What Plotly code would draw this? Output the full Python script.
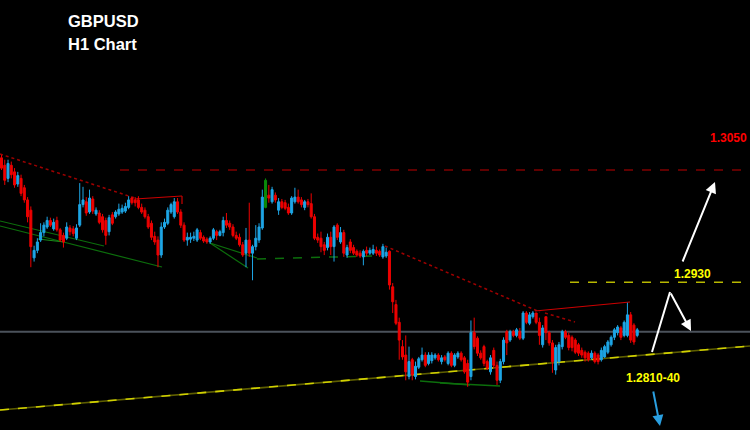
import plotly.graph_objects as go

# GBPUSD H1 candles, prices in points (1e-4)
OPEN = [13063,13055,13041,13055,13048,13035,13041,13031,13018,13007,
        12956,12964,12975,12983,12989,12996,12987,12996,12986,12980,
        12977,12988,12987,12977,12991,13013,13016,13005,13019,13003,
        13004,13000,12996,12984,13002,13000,13003,13005,13006,13010,
        13020,13018,13018,13010,13007,13000,12993,12979,12975,12959,
        12989,12993,13005,13000,13016,13005,12991,12975,12976,12977,
        12975,12983,12978,12976,12973,12977,12984,12980,12983,12996,
        12993,12989,12980,12978,12970,12961,12975,12961,12968,12975,
        12988,13010,13023,13016,13023,13007,13016,13015,13010,13004,
        13016,13021,13018,13010,13016,13014,13000,12978,12977,12970,
        12967,12978,12968,12991,12973,12983,12959,12973,12967,12963,
        12961,12957,12964,12961,12961,12964,12963,12957,12958,12963,
        12925,12906,12887,12861,12852,12829,12847,12829,12839,12847,
        12852,12843,12846,12849,12852,12845,12850,12843,12854,12841,
        12850,12854,12849,12843,12829,12876,12870,12854,12861,12845,
        12834,12857,12841,12825,12845,12877,12868,12877,12873,12877,
        12870,12897,12886,12893,12897,12887,12863,12893,12876,12865,
        12836,12845,12861,12877,12873,12871,12868,12863,12857,12855,
        12854,12849,12854,12852,12847,12850,12855,12863,12871,12876,
        12881,12873,12873,12895,12884,12873]
HIGH = [13066,13061,13061,13059,13052,13048,13045,13034,13021,13011,
        12969,12977,12993,12994,13000,12999,12998,13000,12988,12983,
        12994,12991,12990,12992,13036,13032,13021,13029,13022,13010,
        13007,13003,12999,13002,13005,13007,13014,13013,13015,13022,
        13021,13021,13022,13014,13010,13003,12996,12984,12979,12994,
        12998,13010,13015,13020,13020,13008,12994,12983,12983,12984,
        12988,12986,12980,12978,12979,12988,12986,12986,13000,13004,
        12996,12992,12984,12982,12973,12988,13015,12970,12991,12993,
        13029,13041,13034,13032,13026,13020,13019,13018,13014,13022,
        13031,13029,13021,13018,13019,13025,13003,12982,12984,12973,
        12982,12984,12991,12993,12989,12986,12970,12976,12970,12965,
        12964,12965,12968,12967,12970,12968,12965,12971,12967,12964,
        12929,12911,12892,12868,12873,12861,12849,12845,12850,12860,
        12855,12855,12855,12854,12854,12852,12852,12856,12856,12854,
        12856,12856,12851,12847,12889,12892,12872,12857,12863,12847,
        12852,12860,12845,12848,12871,12879,12879,12879,12881,12881,
        12899,12899,12898,12899,12897,12892,12884,12893,12878,12868,
        12863,12866,12879,12879,12876,12873,12870,12865,12860,12857,
        12856,12857,12856,12854,12860,12863,12868,12873,12881,12884,
        12883,12889,12908,12898,12886,12881]
LOW = [13050,13034,13037,13041,13031,13032,13022,13015,12994,12946,
       12952,12961,12973,12979,12987,12989,12985,12984,12973,12967,
       12975,12980,12979,12975,12989,13010,13001,13003,13003,13001,
       12992,12983,12970,12980,12991,12998,13001,13003,13004,13008,
       13013,13011,13008,13003,12998,12987,12975,12970,12946,12956,
       12987,12991,13003,12998,13003,12988,12973,12969,12972,12974,
       12973,12975,12972,12971,12971,12975,12975,12979,12979,12988,
       12986,12978,12975,12968,12957,12946,12957,12932,12964,12972,
       12986,13009,13015,13014,13015,13002,13008,13007,13002,13002,
       13014,13014,13010,13007,13010,12998,12975,12972,12962,12959,
       12964,12959,12952,12975,12971,12957,12956,12961,12959,12957,
       12956,12948,12958,12959,12959,12958,12957,12955,12956,12922,
       12897,12884,12847,12847,12825,12826,12825,12826,12837,12845,
       12839,12841,12843,12847,12845,12842,12845,12841,12839,12839,
       12848,12845,12832,12818,12825,12858,12851,12847,12840,12836,
       12831,12838,12820,12822,12842,12852,12866,12871,12871,12868,
       12868,12885,12884,12891,12885,12863,12860,12868,12862,12833,
       12831,12841,12858,12869,12857,12856,12853,12851,12849,12845,
       12845,12847,12843,12842,12845,12849,12853,12861,12868,12873,
       12868,12871,12871,12865,12863,12871]
CLOSE = [13052,13039,13057,13045,13034,13044,13025,13018,13000,12968,
         12964,12973,12983,12991,12996,12991,12994,12986,12975,12973,
         12989,12984,12982,12988,13013,13018,13004,13020,13006,13007,
         12994,12986,12980,12999,12993,13005,13008,13009,13011,13018,
         13015,13015,13010,13005,13000,12989,12978,12973,12959,12989,
         12994,13007,13013,13016,13005,12991,12975,12978,12978,12979,
         12986,12977,12974,12973,12977,12986,12980,12984,12996,12991,
         12989,12980,12977,12970,12959,12975,12961,12968,12977,12989,
         13021,13039,13020,13029,13018,13016,13010,13009,13004,13020,
         13021,13016,13013,13016,13013,13000,12977,12975,12968,12964,
         12978,12968,12989,12978,12983,12961,12967,12964,12961,12959,
         12958,12963,12961,12964,12965,12961,12959,12968,12962,12927,
         12909,12886,12868,12850,12834,12845,12831,12840,12848,12852,
         12841,12852,12852,12852,12847,12849,12847,12854,12841,12852,
         12854,12847,12834,12823,12876,12861,12854,12849,12843,12838,
         12849,12841,12825,12845,12868,12865,12877,12873,12879,12870,
         12897,12887,12895,12897,12887,12873,12881,12876,12865,12845,
         12860,12863,12877,12871,12860,12860,12855,12854,12852,12849,
         12847,12854,12845,12845,12857,12861,12866,12871,12879,12882,
         12871,12887,12895,12868,12866,12879]
GREEN_IDX = [81]

LEVEL_TARGET = 1.3050
LEVEL_RESIST = 1.2930
LEVEL_CURRENT = 1.2877
LABEL_TARGET = "1.3050"
LABEL_RESIST = "1.2930"
LABEL_SUPPORT = "1.2810-40"
TITLE_1 = "GBPUSD"
TITLE_2 = "H1 Chart"

P = 1e-4
idx = list(range(len(OPEN)))
main = [i for i in idx if i not in GREEN_IDX]

W, H = 750, 430
def px(x): return x / W
def py(y): return 1 - y / H

fig = go.Figure()

def seg(x0, y0, x1, y1, color, width=1, dash="solid", layer="below"):
    fig.add_shape(type="line", xref="paper", yref="paper",
                  x0=px(x0), y0=py(y0), x1=px(x1), y1=py(y1),
                  line=dict(color=color, width=width, dash=dash), layer=layer)

# gray current price line
fig.add_shape(type="line", xref="paper", yref="y", x0=0, x1=1,
              y0=LEVEL_CURRENT, y1=LEVEL_CURRENT,
              line=dict(color="#4b525b", width=2), layer="below")
# red target dashed level
fig.add_shape(type="line", xref="paper", yref="y", x0=px(120), x1=1,
              y0=LEVEL_TARGET, y1=LEVEL_TARGET,
              line=dict(color="#c00000", width=1, dash="dash"), layer="below")
# yellow resistance dashed level
fig.add_shape(type="line", xref="paper", yref="y", x0=px(570), x1=1,
              y0=LEVEL_RESIST, y1=LEVEL_RESIST,
              line=dict(color="#b8b800", width=1.5, dash="dash"), layer="below")

# yellow rising support (two-tone dashed)
seg(0, 410, 750, 346, "#5e5e00", 1.6)
seg(0, 410, 750, 346, "#d0d000", 1.6, dash="dash")

# red trend lines
seg(0, 154, 138, 199, "#a00000", 1.5, dash="dot")
seg(385, 246, 540, 312, "#a00000", 1.5, dash="dot")
seg(545, 313, 575, 322, "#a00000", 1.5, dash="dot")
seg(135, 199, 182, 196, "#cc0000", 1.2)
seg(182, 196, 182, 204, "#cc0000", 1.2)
seg(535, 311, 630, 302, "#cc0000", 1.2)

# green lines
G = "#0c6e0c"
seg(0, 221, 104, 246, G, 1.2)
seg(0, 226, 162, 267, G, 1.2)
seg(38, 239, 64, 242, "#1a8a1a", 1.2)
seg(210, 243, 248, 268, G, 1.2)
seg(210, 243, 257, 258, G, 1.2)
seg(257, 259, 372, 256, G, 1.5, dash="dash")
seg(420, 381, 470, 385, G, 1.5)
seg(440, 383, 500, 386, G, 1.5)

BLUE = "#1ea6e6"
RED = "#ee0000"
fig.add_trace(go.Candlestick(
    x=main,
    open=[OPEN[i] * P for i in main], high=[HIGH[i] * P for i in main],
    low=[LOW[i] * P for i in main], close=[CLOSE[i] * P for i in main],
    increasing=dict(line=dict(color=BLUE, width=1), fillcolor=BLUE),
    decreasing=dict(line=dict(color=RED, width=1), fillcolor=RED),
    whiskerwidth=0, showlegend=False, hoverinfo="skip"))
fig.add_trace(go.Candlestick(
    x=GREEN_IDX,
    open=[OPEN[i] * P for i in GREEN_IDX], high=[HIGH[i] * P for i in GREEN_IDX],
    low=[LOW[i] * P for i in GREEN_IDX], close=[CLOSE[i] * P for i in GREEN_IDX],
    increasing=dict(line=dict(color="#0a8a0a", width=1), fillcolor="#0a8a0a"),
    decreasing=dict(line=dict(color="#0a8a0a", width=1), fillcolor="#0a8a0a"),
    whiskerwidth=0, showlegend=False, hoverinfo="skip"))

def arrow(x_tail, y_tail, x_head, y_head, color, width=2):
    fig.add_annotation(x=px(x_head), y=py(y_head), xref="paper", yref="paper",
                       ax=x_tail - x_head, ay=y_tail - y_head, axref="pixel", ayref="pixel",
                       showarrow=True, arrowhead=2, arrowsize=1.1, arrowwidth=width,
                       arrowcolor=color, text="")

seg(652, 352, 670, 292, "#ffffff", 2, layer="above")
arrow(670, 292, 691, 331, "#ffffff")
arrow(682, 263, 715, 182, "#ffffff")
arrow(653, 390, 660, 426, "#2a9fe0")

F = "Liberation Sans, Arial, sans-serif"
def label(text, x, y, color, size, anchor="left"):
    fig.add_annotation(x=px(x), y=py(y), xref="paper", yref="paper", text="<b>%s</b>" % text,
                       showarrow=False, xanchor=anchor, yanchor="middle",
                       font=dict(family=F, size=size, color=color))

label(TITLE_1, 66, 21, "#ffffff", 16.5)
label(TITLE_2, 66, 44, "#ffffff", 16.5)
label(LABEL_TARGET, 749, 138, "#ff0000", 12, anchor="right")
label(LABEL_RESIST, 672, 274, "#ffff00", 12)
label(LABEL_SUPPORT, 624, 378, "#ffff00", 12)

fig.update_layout(
    width=W, height=H, margin=dict(l=0, r=0, t=0, b=0),
    paper_bgcolor="#000000", plot_bgcolor="#000000",
    boxgap=0.12,
    xaxis=dict(range=[-0.46, 229.6], visible=False, rangeslider=dict(visible=False), fixedrange=True),
    yaxis=dict(range=[1.27718, 1.32319], visible=False, fixedrange=True),
    showlegend=False,
)

fig.write_html("out.html", config=dict(displayModeBar=False),
               post_script="document.body.style.margin='0';document.body.style.background='#000';")
